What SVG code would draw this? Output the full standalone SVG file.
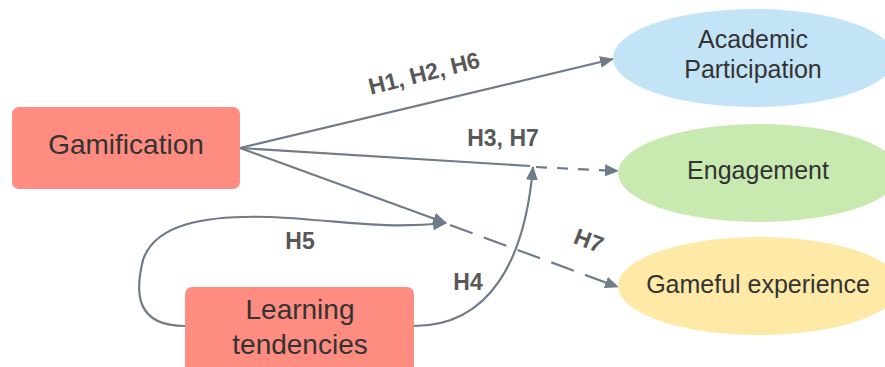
<svg xmlns="http://www.w3.org/2000/svg" width="885" height="367" viewBox="0 0 885 367">
<style>
.box{fill:#FF8C80;}
.nt{font-family:"Liberation Sans",Arial,sans-serif;fill:#333333;text-anchor:middle;}
.el{font-family:"Liberation Sans",Arial,sans-serif;font-weight:bold;font-size:23px;fill:#585858;text-anchor:middle;}
.ln{fill:none;stroke:#6f7b88;stroke-width:2.2;}
</style>
<defs>
<marker id="ah" markerWidth="14" markerHeight="12" refX="13" refY="6" orient="auto" markerUnits="userSpaceOnUse">
<path d="M0,0 L14,6 L0,12 Z" fill="#6f7b88"/>
</marker>
</defs>
<rect x="0" y="0" width="885" height="367" fill="#ffffff"/>
<g id="connectors">
<path class="ln" d="M240,148 L613,59" marker-end="url(#ah)"/>
<path class="ln" d="M240,148 L530,166"/>
<path class="ln" d="M536,167 L618,171" stroke-dasharray="11,10" marker-end="url(#ah)"/>
<path class="ln" d="M240,148 L446,223" marker-end="url(#ah)"/>
<path class="ln" d="M450,225 L618,287" stroke-dasharray="24,12" marker-end="url(#ah)"/>
<path class="ln" d="M185,326 C135,326 135,292 143,260 C155,224 205,215 270,217 C340,220 380,230 446,223" marker-end="url(#ah)"/>
<path class="ln" d="M414,326 C490,326 525,260 533,167" marker-end="url(#ah)"/>
</g>
<g id="labels">
<text class="el" transform="rotate(-14 426 81)" x="426" y="81">H1, H2, H6</text>
<text class="el" x="503" y="146">H3, H7</text>
<text class="el" x="300" y="249">H5</text>
<text class="el" x="468" y="290">H4</text>
<text class="el" transform="rotate(21 586 248)" x="586" y="248">H7</text>
</g>
<g id="gamification">
<rect class="box" x="12" y="107" width="228" height="82" rx="7"/>
<text class="nt" x="126" y="154" font-size="28">Gamification</text>
</g>
<g id="learning">
<rect class="box" x="185" y="287" width="229" height="90" rx="7"/>
<text class="nt" x="300" y="319" font-size="28">Learning</text>
<text class="nt" x="300" y="354" font-size="28">tendencies</text>
</g>
<g id="academic">
<ellipse cx="754" cy="58" rx="141" ry="49" fill="#C3E4F7"/>
<text class="nt" x="753" y="48" font-size="25">Academic</text>
<text class="nt" x="753" y="78" font-size="25">Participation</text>
</g>
<g id="engagement">
<ellipse cx="759" cy="173" rx="141" ry="49" fill="#C8E9AF"/>
<text class="nt" x="758" y="179" font-size="25">Engagement</text>
</g>
<g id="gameful">
<ellipse cx="759" cy="286" rx="141" ry="49" fill="#FFE9A6"/>
<text class="nt" x="758" y="293" font-size="25">Gameful experience</text>
</g>
</svg>
